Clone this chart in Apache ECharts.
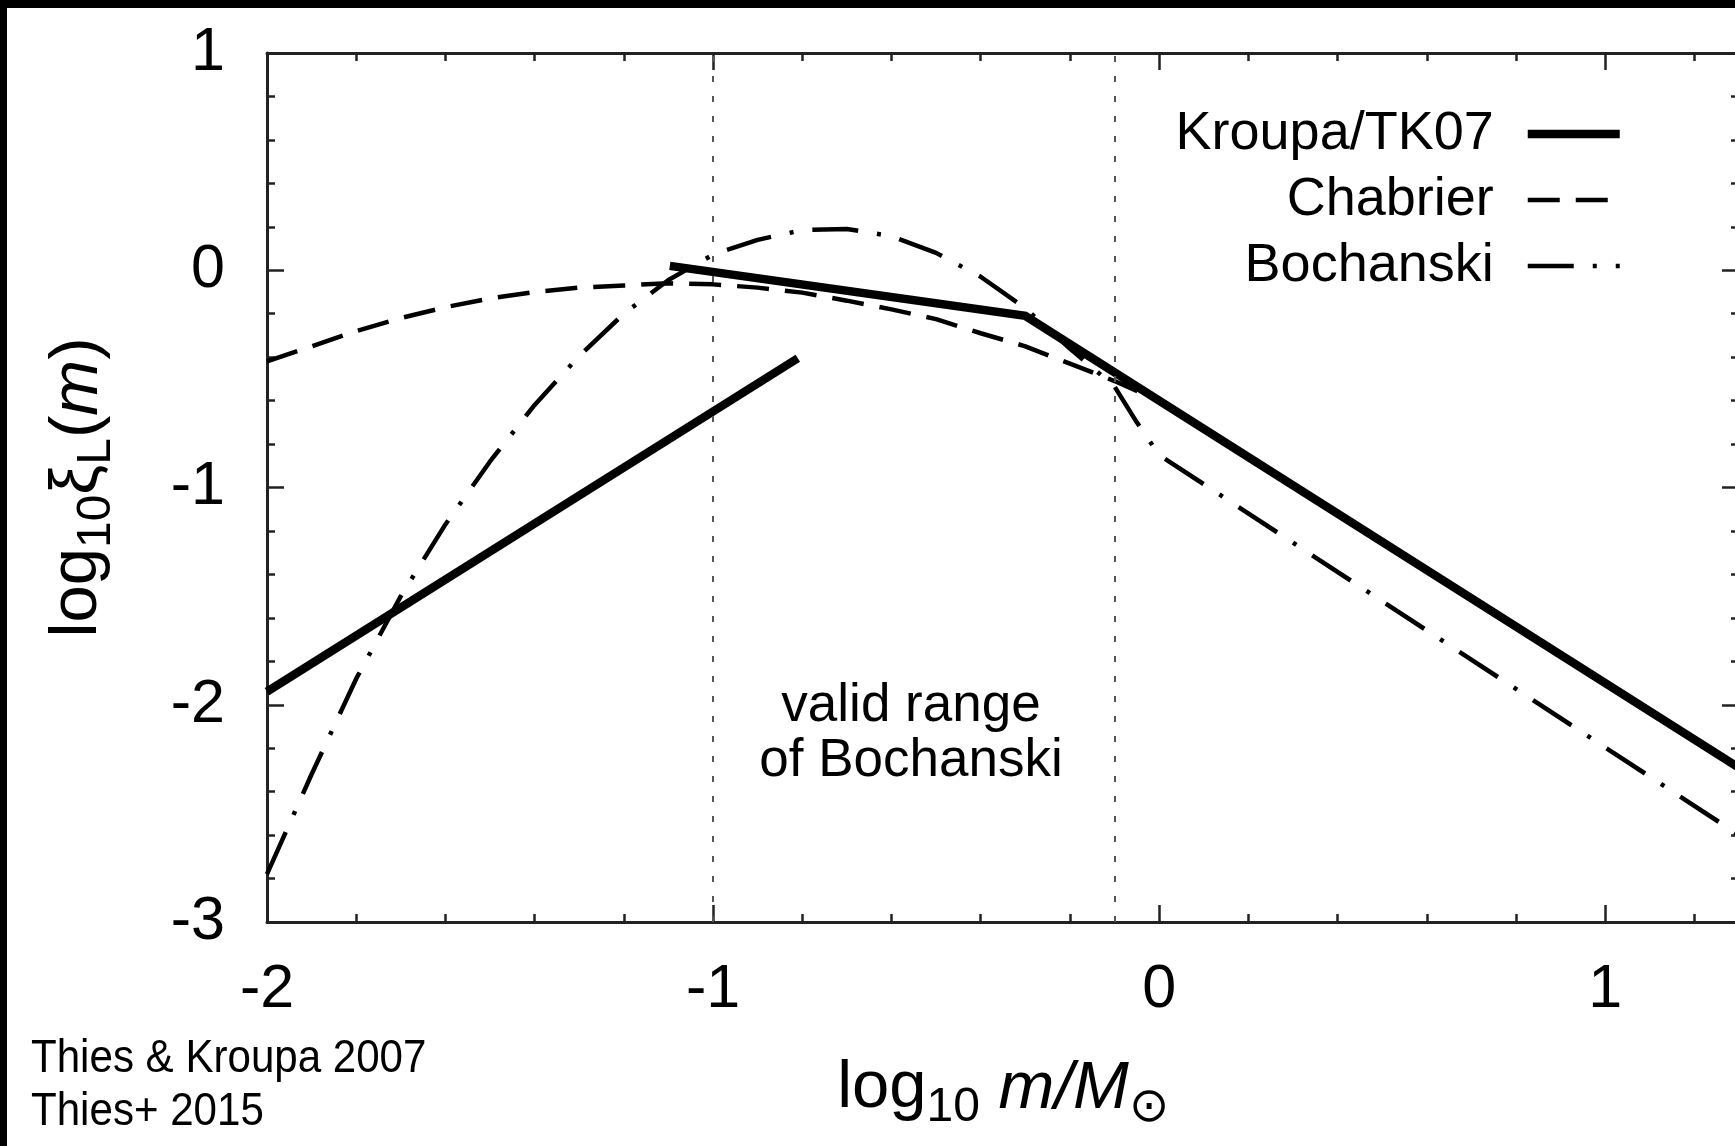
<!DOCTYPE html>
<html>
<head>
<meta charset="utf-8">
<script src="https://cdn.jsdelivr.net/npm/echarts@6/dist/echarts.min.js"></script>
<style>
  html, body { margin: 0; padding: 0; background: #fff; }
  #chart { width: 1735px; height: 1146px; }
</style>
</head>
<body>
<div id="chart"></div>
<script>
// log10 m/Msun axis range and log10 xi_L axis range
const xRange = [-2, 1.3];
const yRange = [-3, 1];

// Kroupa / TK07: brown-dwarf branch and stellar branch (two separate power-law pieces)
const kroupaBD = [[-2.0, -1.94], [-0.81, -0.405]];
const kroupaStars = [[-1.097, 0.02], [-0.30, -0.21], [1.3, -2.29]];

// Chabrier: lognormal below 1 Msun, power law above
const chabrierX = [-2.0, -1.9, -1.8, -1.7, -1.6, -1.5, -1.4, -1.3, -1.2, -1.1, -1.0,
                   -0.9, -0.8, -0.7, -0.6, -0.5, -0.4, -0.3, -0.2, -0.1, 0.0, 1.3];
const chabrierY = [-0.42, -0.35, -0.28, -0.22, -0.17, -0.13, -0.10, -0.08, -0.07, -0.06, -0.065,
                   -0.08, -0.103, -0.14, -0.18, -0.225, -0.29, -0.35, -0.43, -0.51, -0.60, -2.29];

// Bochanski
const bochanskiX = [-2.0, -1.9, -1.8, -1.7, -1.6, -1.5, -1.4, -1.3, -1.2, -1.1, -1.0,
                    -0.9, -0.8, -0.7, -0.6, -0.5, -0.4, -0.3, -0.2, -0.1, -0.05, 0.0, 1.3];
const bochanskiY = [-2.78, -2.32, -1.88, -1.50, -1.17, -0.88, -0.62, -0.395, -0.20, -0.045, 0.072,
                    0.14, 0.185, 0.19, 0.157, 0.08, -0.03, -0.175, -0.36, -0.535, -0.70, -0.85, -2.60];

// limits of the Bochanski validity range
const validRange = [-1.0, -0.1];

const seriesNames = ['Kroupa/TK07', 'Chabrier', 'Bochanski'];
const credits = ['Thies & Kroupa 2007', 'Thies+ 2015'];

const FONT = '"Liberation Sans", Arial, Helvetica, sans-serif';
const INK = '#000';
const AXIS = '#222';

const zip = (xs, ys) => xs.map((x, i) => [x, ys[i]]);

const baseX = {
  type: 'value', min: xRange[0], max: xRange[1],
  splitLine: { show: false },
  axisLine: { show: true, onZero: false, lineStyle: { color: AXIS, width: 3 } },
  axisTick: { show: true, inside: true, length: 17, lineStyle: { color: AXIS, width: 2.5 } },
  axisLabel: { show: false }
};
const minorX = {
  type: 'value', min: xRange[0], max: xRange[1], interval: 0.2,
  splitLine: { show: false },
  axisLine: { show: false, onZero: false },
  axisTick: { show: true, inside: true, length: 8, lineStyle: { color: AXIS, width: 2.5 } },
  axisLabel: { show: false }
};
const baseY = {
  type: 'value', min: yRange[0], max: yRange[1], interval: 1,
  splitLine: { show: false },
  axisLine: { show: true, onZero: false, lineStyle: { color: AXIS, width: 3 } },
  axisTick: { show: true, inside: true, length: 17, lineStyle: { color: AXIS, width: 2.5 } },
  minorTick: { show: true, splitNumber: 5, length: 8, lineStyle: { color: AXIS, width: 2.5 } },
  axisLabel: { show: false }
};

const NAME_SIZE = 67;
const subStyle = { fontSize: 48, fontFamily: FONT, color: INK, padding: [38, 0, 0, 0] };
const italStyle = { fontSize: NAME_SIZE, fontFamily: FONT, fontStyle: 'italic', color: INK };

const chart = echarts.init(document.getElementById('chart'), null, { renderer: 'canvas' });
chart.setOption({
  animation: false,
  backgroundColor: '#fff',
  grid: { left: 267, top: 53, right: -4, bottom: 224, containLabel: false, outerBoundsMode: 'none' },
  xAxis: [
    Object.assign({}, baseX, {
      position: 'bottom', interval: 1,
      axisLabel: { show: true, showMaxLabel: false, margin: 38, fontSize: 61, fontFamily: FONT, color: INK },
      name: 'log{s|10} {i|m/M}{s|⊙}',
      nameLocation: 'middle', nameGap: 124, nameMoveOverlap: false,
      nameTextStyle: {
        fontSize: NAME_SIZE, fontFamily: FONT, color: INK,
        rich: { s: subStyle, i: italStyle }
      }
    }),
    Object.assign({}, baseX, { position: 'top', interval: 1 }),
    Object.assign({}, minorX, { position: 'bottom' }),
    Object.assign({}, minorX, { position: 'top' })
  ],
  yAxis: [
    Object.assign({}, baseY, {
      position: 'left',
      axisLabel: { show: true, margin: 42, fontSize: 61, fontFamily: FONT, color: INK },
      name: 'log{s|10}ξ{s|L}({i|m})',
      nameLocation: 'middle', nameRotate: 90, nameGap: 146, nameMoveOverlap: false,
      nameTextStyle: {
        fontSize: NAME_SIZE, fontFamily: FONT, color: INK,
        rich: { s: subStyle, i: italStyle }
      }
    }),
    Object.assign({}, baseY, { position: 'right' })
  ],
  legend: {
    data: seriesNames,
    orient: 'vertical', align: 'right',
    right: 111, top: 101, padding: 0,
    itemWidth: 92, itemHeight: 20, itemGap: 0,
    selectedMode: false,
    itemStyle: { color: 'rgba(0,0,0,0)', borderWidth: 0, opacity: 0 },
    lineStyle: { width: 'inherit' },
    textStyle: { fontSize: 54, fontFamily: FONT, color: INK, lineHeight: 66, padding: [0, 29, 0, 0] }
  },
  series: [
    {
      name: 'Chabrier', type: 'line', data: zip(chabrierX, chabrierY),
      symbol: 'none', showSymbol: false, silent: true, z: 2, color: INK,
      lineStyle: { color: INK, width: 4.5, type: [32, 16], cap: 'butt' },
      markLine: {
        silent: true, symbol: ['none', 'none'], label: { show: false },
        lineStyle: { color: '#555', width: 2, type: [6, 14] },
        data: validRange.map(v => ({ xAxis: v }))
      }
    },
    {
      name: 'Bochanski', type: 'line', data: zip(bochanskiX, bochanskiY),
      symbol: 'none', showSymbol: false, silent: true, z: 3, color: INK,
      lineStyle: { color: INK, width: 4.5, type: [46, 19, 4, 19], cap: 'butt' }
    },
    {
      name: 'Kroupa/TK07', type: 'line', data: kroupaStars,
      symbol: 'none', showSymbol: false, silent: true, z: 4, color: INK,
      lineStyle: { color: INK, width: 8.5, type: 'solid', cap: 'butt', join: 'miter' }
    },
    {
      name: 'Kroupa/TK07', type: 'line', data: kroupaBD,
      symbol: 'none', showSymbol: false, silent: true, z: 4, color: INK,
      lineStyle: { color: INK, width: 8.5, type: 'solid', cap: 'butt' }
    }
  ],
  graphic: [
    {
      type: 'text', silent: true,
      style: { x: 911, y: 734, text: 'valid range\nof Bochanski', fontSize: 53, lineHeight: 55,
               fontFamily: FONT, fill: INK, align: 'center', verticalAlign: 'middle' }
    },
    {
      type: 'text', silent: true, x: 31, y: 1059, scaleX: 0.915,
      style: { x: 0, y: 0, text: credits[0], fontSize: 46, fontFamily: FONT, fill: INK,
               align: 'left', verticalAlign: 'middle' }
    },
    {
      type: 'text', silent: true, x: 31, y: 1112, scaleX: 0.915,
      style: { x: 0, y: 0, text: credits[1], fontSize: 46, fontFamily: FONT, fill: INK,
               align: 'left', verticalAlign: 'middle' }
    },
    { type: 'rect', silent: true, z: 100, shape: { x: 0, y: 0, width: 1735, height: 8 }, style: { fill: '#000' } },
    { type: 'rect', silent: true, z: 100, shape: { x: 0, y: 0, width: 7, height: 1146 }, style: { fill: '#000' } }
  ]
});
</script>
</body>
</html>
